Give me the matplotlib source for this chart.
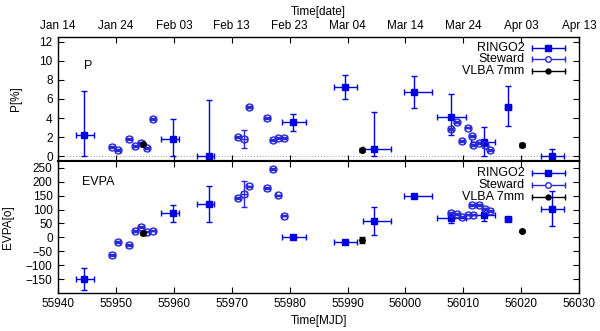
import datetime as dt
import matplotlib
matplotlib.use("Agg")
import matplotlib.pyplot as plt
from matplotlib.ticker import FuncFormatter
import numpy as np

plt.rcParams['font.family'] = ['Liberation Sans Narrow', 'Liberation Sans', 'DejaVu Sans']
plt.rcParams['font.size'] = 8.5

# RINGO2 (MJD, left/right time span in days)
ringo_mjd = [55944.5, 55959.9, 55966.0, 55980.5, 55989.6, 55994.6,
             56001.4, 56007.9, 56013.6, 56017.7, 56025.4]
ringo_xlo = [1.5, 2.1, 2.0, 1.8, 1.9, 1.85, 1.7, 2.5, 2.2, 0.5, 1.9]
ringo_xhi = [1.7, 1.0, 1.0, 2.25, 2.1, 2.9, 3.2, 2.5, 1.85, 0.5, 1.95]
ringo_p = [2.17, 1.8, 0.0, 3.56, 7.27, 0.75, 6.74, 4.08, 1.46, 5.17, 0.0]
ringo_p_lo = [2.17, 1.8, 0.0, 0.88, 1.26, 0.75, 1.67, 1.91, 1.43, 1.99, 0.0]
ringo_p_hi = [4.63, 2.1, 5.9, 0.88, 1.26, 3.93, 1.67, 2.40, 1.57, 2.17, 0.79]
ringo_evpa = [-150, 86, 119, 0, -15.5, 58, 148, 68.5, 81, 66, 102]
ringo_evpa_err = [40, 30, 64, 3, 3, 50, 3, 16, 23, 8, 63]

# Steward
stew_mjd = [55949.3, 55950.25, 55952.25, 55953.3, 55954.3, 55955.3, 55956.3,
            55971.05, 55972.1, 55973.05, 55976.1, 55977.1, 55978.05, 55979.1,
            56007.8, 56008.85, 56009.75, 56010.75, 56011.5, 56011.75,
            56012.75, 56013.75, 56014.7]
stew_p = [0.98, 0.64, 1.76, 1.09, 1.35, 0.82, 3.93,
          2.02, 1.8, 5.13, 3.97, 1.69, 1.91, 1.91,
          2.89, 3.6, 1.57, 3.0, 2.13, 1.12, 1.35, 1.2, 0.6]
stew_p_err = [0.1] * 8 + [0.95] + [0.1] * 14
stew_evpa = [-63, -17, -27, 23, 36, 20.5, 24,
             140.5, 156, 183, 178, 245, 151, 78,
             86.5, 83, 74.6, 82, 117, 82, 117, 102, 94]
stew_evpa_err = [3] * 8 + [48] + [3] * 14

# VLBA 7mm
vlba_mjd = [55954.7, 55992.5, 56020.2]
vlba_p = [1.24, 0.64, 1.2]
vlba_p_err = [0.15, 0.2, 0.2]
vlba_evpa = [14, -9.6, 23]
vlba_evpa_err = [4, 10, 4]

c_ringo = '#0000e0'
c_stew = '#2a2ad8'


def mjd_to_date(x, pos=None):
    d = dt.datetime(1858, 11, 17) + dt.timedelta(days=float(x))
    return d.strftime('%b %d')


fig = plt.figure(figsize=(6, 3.31), dpi=100)
ax1 = fig.add_axes([0.097, 0.514, 0.868, 0.374])
ax2 = fig.add_axes([0.097, 0.115, 0.868, 0.399])

xt = np.arange(55940, 56031, 10)
for ax in (ax1, ax2):
    ax.set_xlim(55940, 56030)
    ax.set_xticks(xt)
    ax.tick_params(direction='in', top=True, right=True, length=4, width=0.8, pad=4)
    for s in ax.spines.values():
        s.set_linewidth(1.0)

ax1.set_ylim(-0.5, 12.5)
ax1.set_yticks(np.arange(0, 13, 2))
ax1.axhline(0, color='#999999', lw=0.7, ls=(0, (1, 2)), zorder=0)
ax1.xaxis.set_major_formatter(FuncFormatter(mjd_to_date))
ax1.tick_params(labeltop=True, labelbottom=False)
ax1.xaxis.set_label_position('top')
ax1.set_xlabel('Time[date]', labelpad=3)
ax1.set_ylabel('P[%]')
ax1.yaxis.set_label_coords(-0.069, 0.5)
ax1.spines['bottom'].set_linewidth(1.5)

ax2.set_ylim(-200, 275)
ax2.set_yticks(np.arange(-150, 251, 50))
ax2.set_xlabel('Time[MJD]', labelpad=3)
ax2.set_ylabel('EVPA[o]')
ax2.yaxis.set_label_coords(-0.085, 0.5)
ax2.spines['top'].set_linewidth(1.5)

eb = dict(capsize=2, elinewidth=1.0, capthick=1.0)

ax1.errorbar(ringo_mjd, ringo_p, yerr=[ringo_p_lo, ringo_p_hi],
             xerr=[ringo_xlo, ringo_xhi], fmt='s', ms=5, color=c_ringo, **eb)
ax1.errorbar(stew_mjd, stew_p, yerr=stew_p_err, xerr=0.45, fmt='o', ms=5,
             mfc='none', mew=1.0, color=c_stew, **eb)
ax1.errorbar(vlba_mjd, vlba_p, yerr=vlba_p_err, fmt='o', ms=4, color='black', **eb)

ax2.errorbar(ringo_mjd, ringo_evpa, yerr=ringo_evpa_err,
             xerr=[ringo_xlo, ringo_xhi], fmt='s', ms=5, color=c_ringo, **eb)
ax2.errorbar(stew_mjd, stew_evpa, yerr=stew_evpa_err, xerr=0.45, fmt='o', ms=5,
             mfc='none', mew=1.0, color=c_stew, **eb)
ax2.errorbar(vlba_mjd, vlba_evpa, yerr=vlba_evpa_err, fmt='o', ms=4, color='black', **eb)

ax1.text(0.05, 0.77, 'P', transform=ax1.transAxes, fontsize=9, va='center')
ax2.text(0.045, 0.84, 'EVPA', transform=ax2.transAxes, fontsize=9, va='center')


def gp_key(ax, ys, rows):
    # gnuplot style key: right aligned text + horizontal bar sample
    for y, (lab, col, mfc, mk, ms) in zip(ys, rows):
        ax.text(0.895, y, lab, transform=ax.transAxes, ha='right', va='center', fontsize=9)
        ax.plot([0.909, 0.974], [y, y], transform=ax.transAxes, color=col, lw=1.0, clip_on=False)
        ax.plot([0.909, 0.974], [y, y], transform=ax.transAxes, color=col, ls='none',
                marker='|', ms=5, mew=1.0, clip_on=False)
        ax.plot([0.941], [y], transform=ax.transAxes, color=col, marker=mk,
                ms=ms, mfc=mfc, mew=1.0, ls='none', clip_on=False)


key = [('RINGO2', c_ringo, c_ringo, 's', 4),
       ('Steward', c_stew, 'white', 'o', 4),
       ('VLBA 7mm', 'black', 'black', 'o', 3.5)]
gp_key(ax1, [0.915, 0.82, 0.725], key)
gp_key(ax2, [0.91, 0.82, 0.73], key)

fig.savefig('out.png', dpi=100)
